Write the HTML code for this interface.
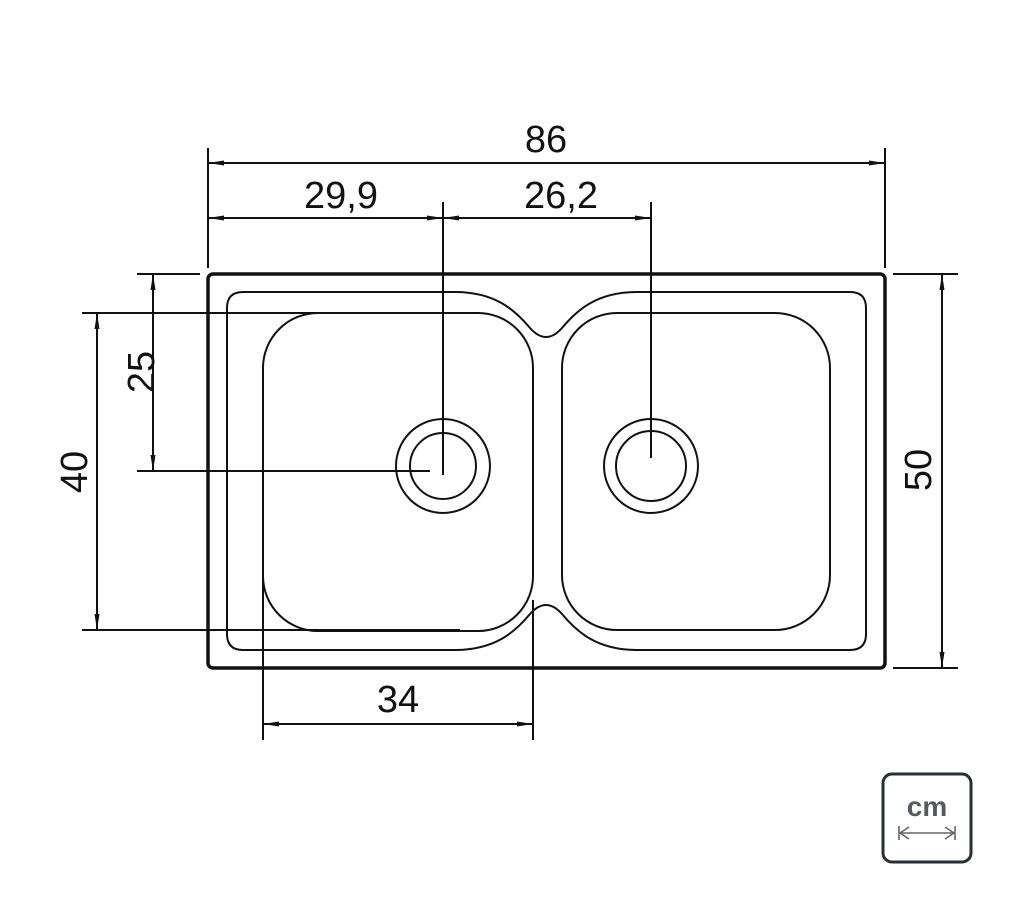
<!DOCTYPE html>
<html><head><meta charset="utf-8"><style>
html,body{margin:0;padding:0;background:#fff;}
svg{display:block;}
text{font-family:"Liberation Sans","DejaVu Sans",sans-serif;fill:#111;}
</style></head><body>
<svg width="1024" height="900" viewBox="0 0 1024 900" xmlns="http://www.w3.org/2000/svg">
<defs>
<marker id="a" viewBox="0 0 16 6" refX="16" refY="3" markerWidth="16" markerHeight="6" markerUnits="userSpaceOnUse" orient="auto-start-reverse">
<path d="M0,0.5 L16,3 L0,5.5 Z" fill="#111"/>
</marker>
</defs>
<g stroke="#111" fill="none" stroke-width="2">
<rect x="208" y="274" width="677" height="394" rx="5" stroke-width="3.5"/>
<path d="M243,292 H455 C495,292 515,310 530,328 Q546,346 562,328 C577,310 597,292 637,292 H850 Q866,292 866,308 V634 Q866,650 850,650 H637 C597,650 577,632 562,614 Q546,596 530,614 C515,632 495,650 455,650 H243 Q227,650 227,634 V308 Q227,292 243,292 Z"/>
<rect x="263" y="313" width="270" height="318" rx="55"/>
<rect x="562" y="313" width="268" height="317" rx="55"/>
<circle cx="443" cy="466" r="47"/><circle cx="443" cy="466" r="33"/>
<circle cx="651" cy="466" r="47"/><circle cx="651" cy="466" r="35"/>

<line x1="208" y1="148" x2="208" y2="268"/>
<line x1="885" y1="148" x2="885" y2="268"/>
<line x1="208" y1="163" x2="885" y2="163" marker-start="url(#a)" marker-end="url(#a)"/>
<line x1="208" y1="218" x2="443" y2="218" marker-start="url(#a)" marker-end="url(#a)"/>
<line x1="443" y1="218" x2="651" y2="218" marker-start="url(#a)" marker-end="url(#a)"/>
<line x1="443" y1="202" x2="443" y2="475"/>
<line x1="651" y1="202" x2="651" y2="458"/>

<line x1="137" y1="274" x2="200" y2="274"/>
<line x1="137" y1="471" x2="430" y2="471"/>
<line x1="153" y1="274" x2="153" y2="471" marker-start="url(#a)" marker-end="url(#a)"/>
<line x1="82" y1="313" x2="470" y2="313"/>
<line x1="82" y1="630" x2="460" y2="630"/>
<line x1="97" y1="313" x2="97" y2="630" marker-start="url(#a)" marker-end="url(#a)"/>

<line x1="893" y1="274" x2="958" y2="274"/>
<line x1="893" y1="668" x2="958" y2="668"/>
<line x1="942" y1="274" x2="942" y2="668" marker-start="url(#a)" marker-end="url(#a)"/>

<line x1="263" y1="470" x2="263" y2="740"/>
<line x1="533" y1="600" x2="533" y2="740"/>
<line x1="263" y1="724" x2="533" y2="724" marker-start="url(#a)" marker-end="url(#a)"/>
</g>
<g font-size="38">
<text x="546" y="152" text-anchor="middle">86</text>
<text x="341" y="208" text-anchor="middle">29,9</text>
<text x="561" y="208" text-anchor="middle">26,2</text>
<text x="398" y="712" text-anchor="middle">34</text>
<text transform="translate(154,372) rotate(-90)" text-anchor="middle">25</text>
<text transform="translate(87,472) rotate(-90)" text-anchor="middle">40</text>
<text transform="translate(931,470) rotate(-90)" text-anchor="middle">50</text>
</g>
<rect x="883" y="774" width="88" height="88" rx="9" fill="none" stroke="#2a2f36" stroke-width="3"/>
<text x="927" y="816" text-anchor="middle" font-size="28" font-weight="bold" style="fill:#555a60">cm</text>
<g stroke="#666" stroke-width="1.6" fill="none">
<line x1="900" y1="833" x2="954" y2="833"/>
<line x1="899" y1="826" x2="899" y2="840"/>
<line x1="955" y1="826" x2="955" y2="840"/>
<polyline points="909,827 900,833 909,839"/>
<polyline points="945,827 954,833 945,839"/>
</g>
</svg>
</body></html>
